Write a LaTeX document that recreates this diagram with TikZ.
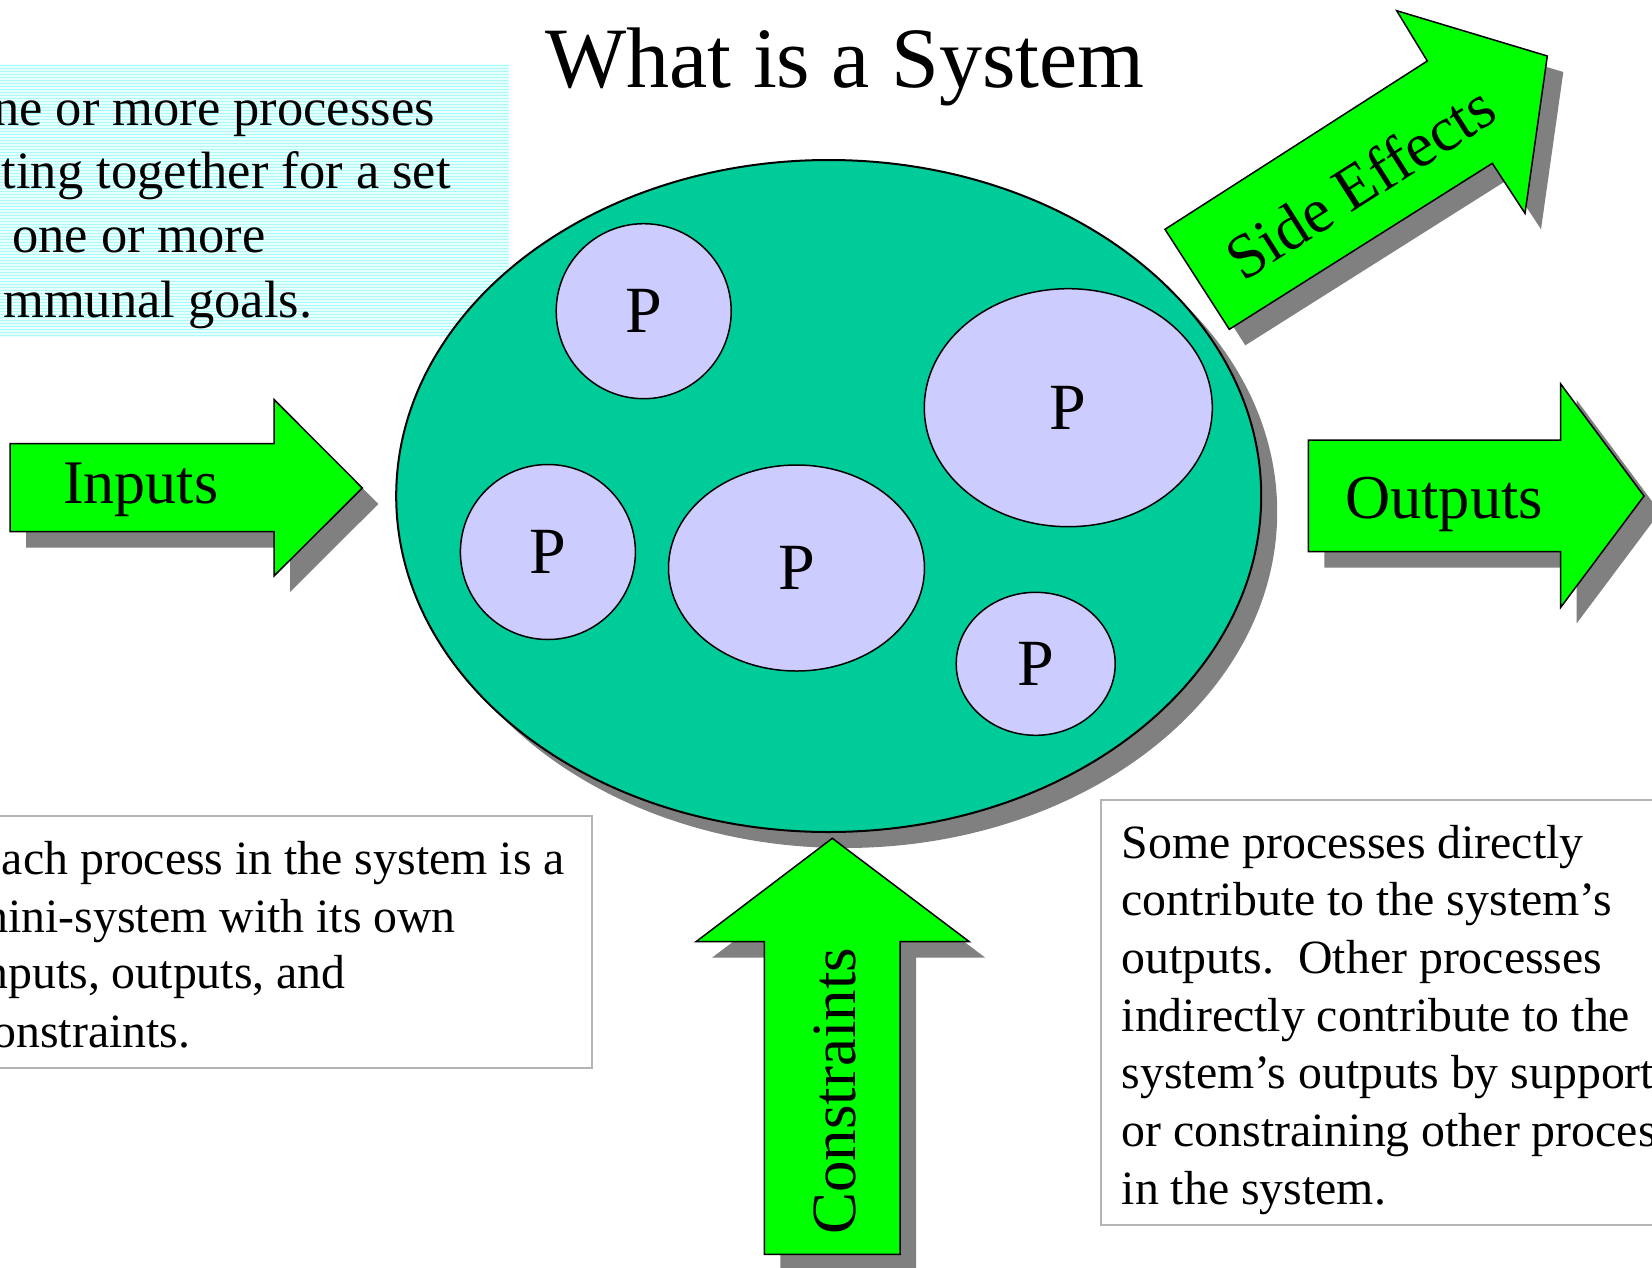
\documentclass[tikz,border=0pt]{standalone}
\usepackage{fontspec}
\setmainfont{Liberation Serif}
\usetikzlibrary{shapes.geometric,shadows}

\definecolor{sysgreen}{RGB}{0,204,153}
\definecolor{procblue}{RGB}{204,204,255}
\definecolor{flowgreen}{RGB}{0,255,0}
\definecolor{shadowgray}{RGB}{128,128,128}
\definecolor{framegray}{RGB}{180,180,180}
\definecolor{paletint}{RGB}{232,255,255}
\definecolor{stripetint}{RGB}{170,250,250}

\newcommand\fs[2]{\fontsize{#1}{#2}\selectfont}

\begin{document}
\begin{tikzpicture}[x=1pt,y=-1pt,
  txt/.style={inner sep=0pt, anchor=base west},
  flow/.style={fill=flowgreen, draw=black, line width=1.5pt, line join=miter},
  flowshadow/.style={fill=shadowgray, shift={(16,16)}},
  proc/.style={ellipse, draw=black, line width=1.5pt, fill=procblue, inner sep=0pt, font=\fs{66}{66}},
  textframe/.style={draw=framegray, line width=2pt},
  notetl/.style={txt, font=\fs{52.5}{64}},
  note/.style={txt, font=\fs{47.8}{57.6}}]

\useasboundingbox (0,0) rectangle (1652,1267);
\fill[white] (0,0) rectangle (1652,1267);

% striped definition panel
\fill[paletint] (-5,64) rectangle (509,337);
\foreach \yy in {65.5,68.5,...,336} \draw[stripetint, line width=1.4pt] (-5,\yy) -- (509,\yy);

\node[notetl] (tl1) at (-7.1,125) {ne or more processes};
\node[notetl] (tl2) at (1.6,188) {ting together for a set};
\node[notetl] (tl3) at (11.9,252) {one or more};
\node[notetl] (tl4) at (3,317) {mmunal goals.};

% title
\node[inner sep=0pt, anchor=base, font=\fs{86}{86}] (title) at (845,87) {What is a System};

% the system and its processes
\node[ellipse, draw=black, line width=2pt, fill=sysgreen, minimum width=865pt, minimum height=672pt, inner sep=0pt,
  drop shadow={shadow xshift=16pt, shadow yshift=-16pt, fill=shadowgray, opacity=1}] (sys) at (828.7,496) {};

\node[proc, minimum width=175pt, minimum height=175pt] (p1) at (643.7,311.2) {P};
\node[proc, minimum width=175pt, minimum height=175pt] (p2) at (547.9,552) {P};
\node[proc, minimum width=256pt, minimum height=206pt] (p3) at (796.5,568) {P};
\node[proc, minimum width=288pt, minimum height=238pt] (p4) at (1068.3,407.7) {P};
\node[proc, minimum width=159pt, minimum height=143pt] (p5) at (1035.7,663.8) {P};

% block arrows
\def\inpath{(10,443.5) -- (274,443.5) -- (274,399.5) -- (362.3,488) -- (274,576) -- (274,531.7) -- (10,531.7) -- cycle}
\def\outpath{(1308.3,440) -- (1560.7,440) -- (1560.7,384) -- (1644,496) -- (1560.7,607.3) -- (1560.7,551.7) -- (1308.3,551.7) -- cycle}
\def\conpath{(832.3,838.3) -- (969.3,941.7) -- (900,941.7) -- (900,1254.3) -- (764.3,1254.3) -- (764.3,941.7) -- (696,941.7) -- cycle}
\def\sidepath{(1165,229.3) -- (1427.3,61) -- (1396.7,10.7) -- (1547.3,56) -- (1525,213.3) -- (1492.3,163.3) -- (1229.3,329.3) -- cycle}

\fill[flowshadow] \inpath;
\draw[flow] \inpath;
\fill[flowshadow] \outpath;
\draw[flow] \outpath;
\fill[flowshadow] \conpath;
\draw[flow] \conpath;
\fill[flowshadow] \sidepath;
\draw[flow] \sidepath;

\node[txt, font=\fs{62}{62}] (inlab) at (63,503.3) {Inputs};
\node[txt, font=\fs{62.5}{62.5}] (outlab) at (1345,518.3) {Outputs};
\node[txt, rotate=90, font=\fs{63}{63}] (conlab) at (855,1235) {Constraints};
\node[inner sep=0pt, rotate=32.5, font=\fs{63}{63}] (sidelab) at (1360,182) {Side Effects};

% explanatory notes
\draw[textframe] (-5,815.7) rectangle (592,1068);
\node[note] (bl1) at (1.7,874.7) {ach process in the system is a};
\node[note] (bl2) at (-29,932) {mini-system with its own};
\node[note] (bl3) at (-15.7,988.7) {nputs, outputs, and};
\node[note] (bl4) at (-7.7,1047) {onstraints.};

\draw[textframe] (1101,800) rectangle (1665,1225);
\node[note] (br1) at (1121.5,858) {Some processes directly};
\node[note] (br2) at (1121.5,915.7) {contribute to the system’s};
\node[note] (br3) at (1121.5,973) {outputs.\ \ Other processes};
\node[note] (br4) at (1121.5,1031.3) {indirectly contribute to the};
\node[note] (br5) at (1121.5,1088.9) {system’s outputs by support};
\node[note] (br6) at (1121.5,1146.5) {or constraining other proces};
\node[note] (br7) at (1121.5,1204) {in the system.};
\end{tikzpicture}
\end{document}
